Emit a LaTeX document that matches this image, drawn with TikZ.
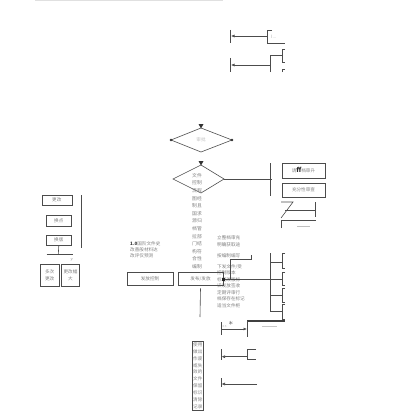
\documentclass[tikz,border=0pt]{standalone}
\usepackage{fontspec}
\newfontfamily\cjk{Noto Sans CJK SC}
\usetikzlibrary{arrows.meta}
\begin{document}
\begin{tikzpicture}[x=1pt,y=-1pt,
 ln/.style={draw=black!70,line width=0.6pt},
 tx/.style={font=\cjk\fontsize{4.6}{6.5}\selectfont,text=black!50,inner sep=0pt},
 bx/.style={draw=black!70,line width=0.6pt,inner sep=0pt,font=\cjk\fontsize{4.6}{6.5}\selectfont,text=black!50,align=center},
 arr/.style={ln,-{Latex[length=3.5pt,width=3pt]}}]
\useasboundingbox (0,0) rectangle (400,412);
% faint top rule
\draw[black!12,line width=1pt] (35,1)--(223,1);
% top arrow 1
\coordinate (k1a) at (230,30); \coordinate (k1b) at (230,43);
\draw[ln] (k1a)--(k1b);
\coordinate (s1) at (267,36); \coordinate (e1) at (231,36);
\draw[arr] (s1)--(e1);
\draw[ln] (272,30)--(267,30)--(267,43)--(285,43);
\node[tx,anchor=west,text=black!30] (t1) at (271,36.5) {I...};
% top arrow 2
\coordinate (k2a) at (230,58); \coordinate (k2b) at (230,72);
\draw[ln] (k2a)--(k2b);
\coordinate (s2) at (270,65); \coordinate (e2) at (231,65);
\draw[arr] (s2)--(e2);
\draw[ln] (270,72)--(270,55)--(282,55);
\draw[ln] (285,49)--(282,49)--(282,62)--(285,62);
\draw[ln] (282,72)--(282,69)--(285,69);
% diamond 1
\coordinate (d1t) at (201,128); \coordinate (d1r) at (232,140);
\coordinate (d1b) at (201,152); \coordinate (d1l) at (171,140);
\draw[ln] (d1t)--(d1r)--(d1b)--(d1l)--cycle;
\fill[black!80] (198.5,124)--(203.5,124)--(201,128.5)--cycle;
\fill[black!80] (d1l) circle (1.3) (d1r) circle (1.3);
\node[tx,text=black!25] (d1x) at (201,140) {审批};
% diamond 2
\coordinate (d2t) at (201,165); \coordinate (d2r) at (224,179);
\coordinate (d2b) at (201,193); \coordinate (d2l) at (173,179);
\draw[ln] (d2t)--(d2r)--(d2b)--(d2l)--cycle;
\fill[black!80] (198.5,161)--(203.5,161)--(201,165.5)--cycle;
\node[tx,align=center,font=\cjk\fontsize{4.8}{7.6}\selectfont,anchor=north] (d2x) at (197,173)
 {文件\\控制\\流程\\图经\\制且\\国求\\源归\\档管\\拉部\\门结\\构符\\合性\\编制};
% from diamond 2 to right
\coordinate (c1) at (272,179);
\draw[ln] (d2r)--(c1);
\draw[ln] (270,163)--(270,196);
\node[bx,minimum width=43,minimum height=15] (ba) at (303.5,170.5) {请{\color{black!85}\fontsize{6.5}{6.5}\selectfont\bfseries ff}档审升};
\node[bx,minimum width=43,minimum height=14] (bb) at (303.5,190) {充分性审查};
% Z shape
\draw[ln] (281,202)--(293,202)--(281,218);
\draw[ln] (285,210)--(315,210);
\draw[ln] (315,202)--(315,217);
\draw[ln] (281,228)--(281,220)--(316,220);
\draw[black!25,line width=0.4pt] (297,226.5)--(310,226.5);
% right bracket group
\draw[ln] (270,253)--(270,312);
\draw[ln] (270,262)--(282,262) (270,295)--(282,295) (270,311.7)--(282,311.7);
\foreach \a/\b in {253/268,272/285,288/302,304/319}{
 \draw[ln] (285,\a)--(282,\a)--(282,\b)--(285,\b);}
\coordinate (th1) at (247,321); \coordinate (th2) at (285,321);
\draw[black!75,line width=1.3pt] (th1)--(th2);
\draw[ln] (th1)--(247,337);
\draw[black!22,line width=0.4pt] (262,326.5)--(277,326.5);
% left column text
\node[tx,anchor=west,align=left,font=\cjk\fontsize{4.6}{6.2}\selectfont] (mt) at (130,249.5)
 {{\color{black!80}\bfseries 1.0}国阶文件史\\改善般材料达\\改评仅预测};
% right column text
\node[tx,anchor=north west,align=left,font=\cjk\fontsize{4.6}{6.5}\selectfont] (rt1) at (217,235.5)
 {立整档审充\\明确获取途};
\node[tx,anchor=west] (rt2) at (217,256) {按编制编写};
\node[tx,anchor=north west,align=left,font=\cjk\fontsize{4.6}{6.5}\selectfont] (rt3) at (217,264)
 {下发文件/受\\控制版本\\标记改版标\\识发放签收\\定期评审行\\档保存在标记\\适当文件柜};
% control boxes
\node[bx,minimum width=46,minimum height=13] (fk) at (150,278.5) {发放控制};
\node[bx,minimum width=45,minimum height=13] (fb) at (200.5,278.5) {发布/发放};
\coordinate (m1) at (223,279);
\draw[ln] (m1)--(282,279);
\fill[black!85] (221.5,277.5) rectangle (224.5,280.5);
\draw[ln] (230.7,279)--(230.7,259.3)--(251.7,259.3)--(251.7,255);
\draw[ln] (fb.south)++(0,3)--(200,317);
% bottom arrows
\draw[ln] (221,322)--(221,335);
\node[font=\fontsize{9}{9}\selectfont,text=black!75,inner sep=0] (ast) at (231,323) {$\ast$};
\node[tx,text=black!30,font=\fontsize{3}{3}\selectfont] (sm) at (224.5,327) {88};
\coordinate (a1s) at (222,329); \coordinate (a1e) at (247,329);
\draw[arr] (a1s)--(a1e);
\draw[ln] (221,349)--(221,360);
\draw[ln] (256,349)--(247,349)--(247,359)--(256,359);
\coordinate (a2s) at (247,356.7); \coordinate (a2e) at (221.5,356.7);
\draw[arr] (a2s)--(a2e);
\draw[ln] (221,378)--(221,387);
\coordinate (a3s) at (257,384); \coordinate (a3e) at (221.5,384);
\draw[arr] (a3s)--(a3e);
% vertical text box
\node[bx,minimum width=11.6,minimum height=69.3,anchor=north west,font=\cjk\fontsize{4.6}{6.9}\selectfont] (vb) at (191.7,340.7)
 {使用\\做出\\作废\\或失\\效的\\文件\\保留\\标识\\清除\\记录};
% left group
\node[bx,minimum width=30,minimum height=10] (g1) at (56.8,200) {更改};
\node[bx,minimum width=25.7,minimum height=11.7] (g2) at (58.8,220.8) {换点};
\node[bx,minimum width=25.7,minimum height=10] (g3) at (58.8,240) {换版};
\draw[ln] (81.7,195)--(81.7,248.3);
\draw[ln] (g3.south)--(58.3,254.3);
\draw[ln] (46.7,254.3)--(73.3,254.3);
\node[tx,font=\fontsize{4}{4}\selectfont,text=black!50] (yy) at (71.7,260) {y};
\node[bx,minimum width=19.3,minimum height=22.7] (g4) at (49.7,275.3) {多次\\更改};
\node[bx,minimum width=17.6,minimum height=22.7] (g5) at (70.5,275.3) {更改幅\\大};
\end{tikzpicture}
\end{document}
